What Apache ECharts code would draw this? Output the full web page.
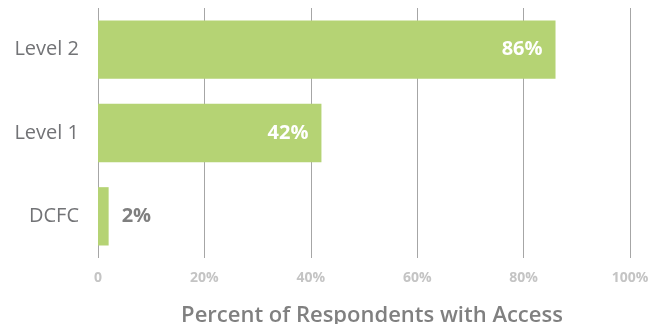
<!DOCTYPE html>
<html>
<head>
<meta charset="utf-8">
<script src="https://cdn.jsdelivr.net/npm/echarts@6/dist/echarts.min.js"></script>
<style>
  html, body { margin: 0; padding: 0; background: #ffffff; }
  #chart { width: 664px; height: 324px; }
</style>
</head>
<body>
<div id="chart"></div>
<script>
// Charger types, bottom to top
const categories = ['DCFC', 'Level 1', 'Level 2'];
// Share of respondents with access (%)
const accessPct = [2, 42, 86];
// Value-axis tick labels
const tickLabels = ['0', '20%', '40%', '60%', '80%', '100%'];

const FONT = '"Open Sans", Lato, sans-serif';
const BAR_COLOR = '#b5d374';

const chart = echarts.init(document.getElementById('chart'), null, { renderer: 'canvas' });

chart.setOption({
  animation: false,
  grid: {
    left: 98, right: 34, top: 8, bottom: 66,
    containLabel: false,
    outerBoundsMode: 'none'
  },
  xAxis: {
    type: 'value',
    min: 0,
    max: 100,
    interval: 20,
    axisLine: { show: false },
    axisTick: { show: false },
    splitLine: { show: true, lineStyle: { color: '#a6a6a6', width: 1 } },
    axisLabel: {
      margin: 13,
      color: '#c4c4c4',
      fontFamily: FONT,
      fontWeight: 'bold',
      fontSize: 14,
      formatter: (v) => tickLabels[Math.round(v / 20)]
    },
    name: 'Percent of Respondents with Access',
    nameLocation: 'middle',
    nameGap: 47,
    nameTextStyle: {
      color: '#808080',
      fontFamily: FONT,
      fontWeight: 600,
      fontSize: 22,
      padding: [0, 0, 0, 16]
    }
  },
  yAxis: {
    type: 'category',
    data: categories,
    axisLine: { show: false },
    axisTick: { show: false },
    splitLine: { show: false },
    axisLabel: {
      margin: 19,
      color: '#727376',
      fontFamily: FONT,
      fontSize: 20,
      padding: [4, 0, 0, 0]
    }
  },
  series: [{
    type: 'bar',
    data: accessPct.map((v) => ({
      value: v,
      label: v < 10
        ? { position: 'right', distance: 13, color: '#7f7f7f' }
        : { position: 'insideRight', distance: 13, color: '#ffffff' }
    })),
    barCategoryGap: '30%',
    itemStyle: { color: BAR_COLOR },
    label: {
      show: true,
      formatter: '{c}%',
      fontFamily: FONT,
      fontWeight: 'bold',
      fontSize: 20
    }
  }]
});
</script>
</body>
</html>
